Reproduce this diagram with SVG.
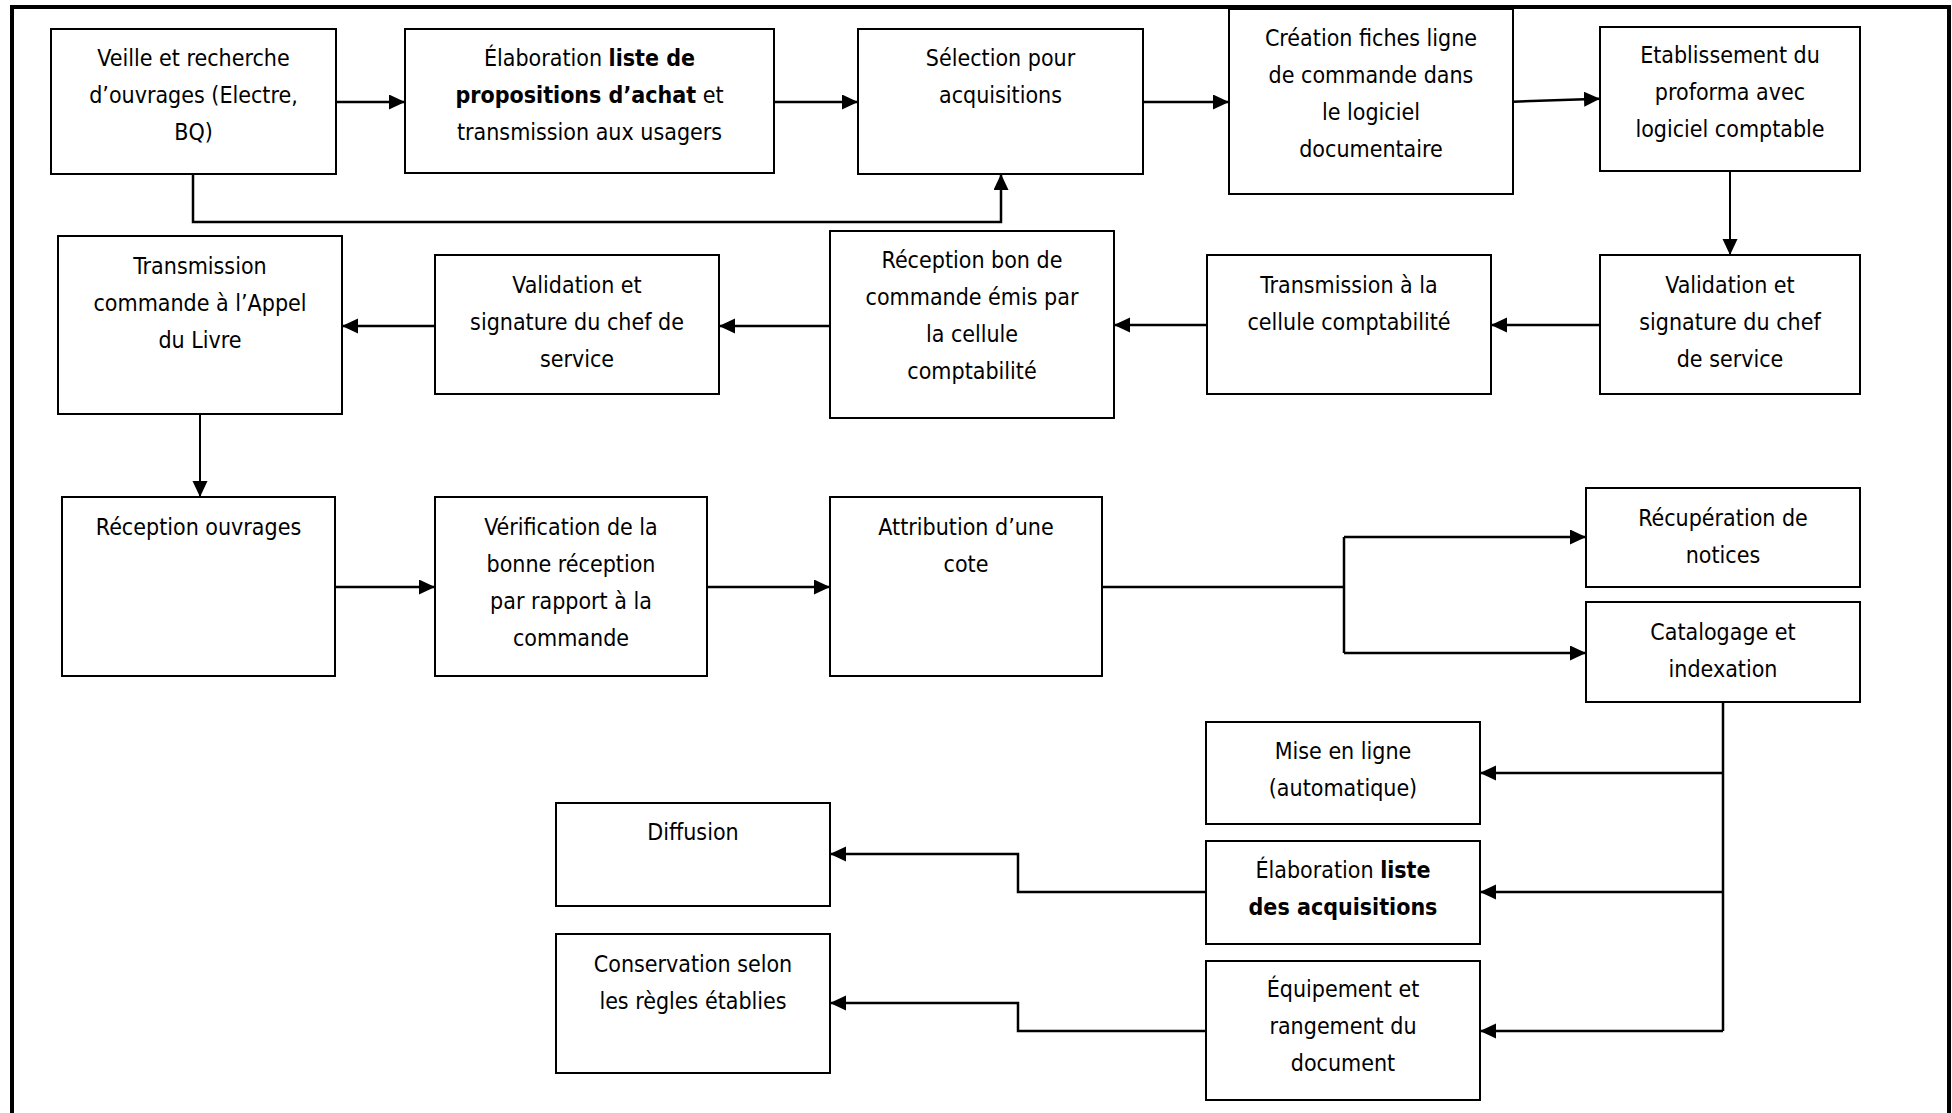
<svg xmlns="http://www.w3.org/2000/svg" width="1952" height="1113" viewBox="0 0 1952 1113">
<style>
.box{fill:#fff;stroke:#000;stroke-width:2}
.t{font-family:"DejaVu Sans Condensed","DejaVu Sans",sans-serif;font-stretch:condensed;font-size:23px;fill:#000;text-anchor:middle}
.b{font-weight:bold}
.c{fill:none;stroke:#000;stroke-width:2.5}
.v{fill:none;stroke:#000;stroke-width:2}
</style>
<defs>
<marker id="ah" markerUnits="userSpaceOnUse" markerWidth="17" markerHeight="16" refX="16" refY="7.5" orient="auto">
<path d="M0,0 L16,7.5 L0,15 z" fill="#000"/>
</marker>
</defs>
<rect x="0" y="0" width="1952" height="1113" fill="#fff"/>
<path d="M12,1113 V7 H1949 V1113" fill="none" stroke="#000" stroke-width="4"/>

<g id="n1"><rect class="box" x="51" y="29" width="285" height="145"/>
<text class="t" x="193.5" y="66">Veille et recherche</text>
<text class="t" x="193.5" y="103">d’ouvrages (Electre,</text>
<text class="t" x="193.5" y="140">BQ)</text></g>

<g id="n2"><rect class="box" x="405" y="29" width="369" height="144"/>
<text class="t" x="589.5" y="66">Élaboration <tspan class="b">liste de</tspan></text>
<text class="t" x="589.5" y="103"><tspan class="b">propositions d’achat</tspan> et</text>
<text class="t" x="589.5" y="140">transmission aux usagers</text></g>

<g id="n3"><rect class="box" x="858" y="29" width="285" height="145"/>
<text class="t" x="1000.5" y="66">Sélection pour</text>
<text class="t" x="1000.5" y="103">acquisitions</text></g>

<g id="n4"><rect class="box" x="1229" y="9" width="284" height="185"/>
<text class="t" x="1371" y="46">Création fiches ligne</text>
<text class="t" x="1371" y="83">de commande dans</text>
<text class="t" x="1371" y="120">le logiciel</text>
<text class="t" x="1371" y="157">documentaire</text></g>

<g id="n5"><rect class="box" x="1600" y="27" width="260" height="144"/>
<text class="t" x="1730" y="63">Etablissement du</text>
<text class="t" x="1730" y="100">proforma avec</text>
<text class="t" x="1730" y="137">logiciel comptable</text></g>

<g id="n6"><rect class="box" x="1600" y="255" width="260" height="139"/>
<text class="t" x="1730" y="293">Validation et</text>
<text class="t" x="1730" y="330">signature du chef</text>
<text class="t" x="1730" y="367">de service</text></g>

<g id="n7"><rect class="box" x="1207" y="255" width="284" height="139"/>
<text class="t" x="1349" y="293">Transmission à la</text>
<text class="t" x="1349" y="330">cellule comptabilité</text></g>

<g id="n8"><rect class="box" x="830" y="231" width="284" height="187"/>
<text class="t" x="972" y="268">Réception bon de</text>
<text class="t" x="972" y="305">commande émis par</text>
<text class="t" x="972" y="342">la cellule</text>
<text class="t" x="972" y="379">comptabilité</text></g>

<g id="n9"><rect class="box" x="435" y="255" width="284" height="139"/>
<text class="t" x="577" y="293">Validation et</text>
<text class="t" x="577" y="330">signature du chef de</text>
<text class="t" x="577" y="367">service</text></g>

<g id="n10"><rect class="box" x="58" y="236" width="284" height="178"/>
<text class="t" x="200" y="274">Transmission</text>
<text class="t" x="200" y="311">commande à l’Appel</text>
<text class="t" x="200" y="348">du Livre</text></g>

<g id="n11"><rect class="box" x="62" y="497" width="273" height="179"/>
<text class="t" x="198.5" y="535">Réception ouvrages</text></g>

<g id="n12"><rect class="box" x="435" y="497" width="272" height="179"/>
<text class="t" x="571" y="535">Vérification de la</text>
<text class="t" x="571" y="572">bonne réception</text>
<text class="t" x="571" y="609">par rapport à la</text>
<text class="t" x="571" y="646">commande</text></g>

<g id="n13"><rect class="box" x="830" y="497" width="272" height="179"/>
<text class="t" x="966" y="535">Attribution d’une</text>
<text class="t" x="966" y="572">cote</text></g>

<g id="n14"><rect class="box" x="1586" y="488" width="274" height="99"/>
<text class="t" x="1723" y="526">Récupération de</text>
<text class="t" x="1723" y="563">notices</text></g>

<g id="n15"><rect class="box" x="1586" y="602" width="274" height="100"/>
<text class="t" x="1723" y="640">Catalogage et</text>
<text class="t" x="1723" y="677">indexation</text></g>

<g id="n16"><rect class="box" x="1206" y="722" width="274" height="102"/>
<text class="t" x="1343" y="759">Mise en ligne</text>
<text class="t" x="1343" y="796">(automatique)</text></g>

<g id="n17"><rect class="box" x="1206" y="841" width="274" height="103"/>
<text class="t" x="1343" y="878">Élaboration <tspan class="b">liste</tspan></text>
<text class="t b" x="1343" y="915">des acquisitions</text></g>

<g id="n18"><rect class="box" x="1206" y="961" width="274" height="139"/>
<text class="t" x="1343" y="997">Équipement et</text>
<text class="t" x="1343" y="1034">rangement du</text>
<text class="t" x="1343" y="1071">document</text></g>

<g id="n19"><rect class="box" x="556" y="803" width="274" height="103"/>
<text class="t" x="693" y="840">Diffusion</text></g>

<g id="n20"><rect class="box" x="556" y="934" width="274" height="139"/>
<text class="t" x="693" y="972">Conservation selon</text>
<text class="t" x="693" y="1009">les règles établies</text></g>

<g id="connectors">
<path class="c" d="M336,102 H405" marker-end="url(#ah)"/>
<path class="c" d="M774,102 H858" marker-end="url(#ah)"/>
<path class="c" d="M1143,102 H1229" marker-end="url(#ah)"/>
<path class="c" d="M1513,101.7 L1600,98.7" marker-end="url(#ah)"/>
<path class="c" d="M193,174 V222 H1001 V174" marker-end="url(#ah)"/>
<path class="v" d="M1730,171 V255" marker-end="url(#ah)"/>
<path class="c" d="M1600,325 H1491" marker-end="url(#ah)"/>
<path class="c" d="M1207,325 H1114" marker-end="url(#ah)"/>
<path class="c" d="M830,326 H719" marker-end="url(#ah)"/>
<path class="c" d="M435,326 H342" marker-end="url(#ah)"/>
<path class="v" d="M200,414 V497" marker-end="url(#ah)"/>
<path class="c" d="M335,587 H435" marker-end="url(#ah)"/>
<path class="c" d="M707,587 H830" marker-end="url(#ah)"/>
<path class="c" d="M1102,587 H1344"/>
<path class="c" d="M1344,537 V653"/>
<path class="c" d="M1344,537 H1586" marker-end="url(#ah)"/>
<path class="c" d="M1344,653 H1586" marker-end="url(#ah)"/>
<path class="c" d="M1723,702 V1031"/>
<path class="c" d="M1723,773 H1480" marker-end="url(#ah)"/>
<path class="c" d="M1723,892 H1480" marker-end="url(#ah)"/>
<path class="c" d="M1723,1031 H1480" marker-end="url(#ah)"/>
<path class="c" d="M1206,892 H1018 V854 H830" marker-end="url(#ah)"/>
<path class="c" d="M1206,1031 H1018 V1003 H830" marker-end="url(#ah)"/>
</g>
</svg>
